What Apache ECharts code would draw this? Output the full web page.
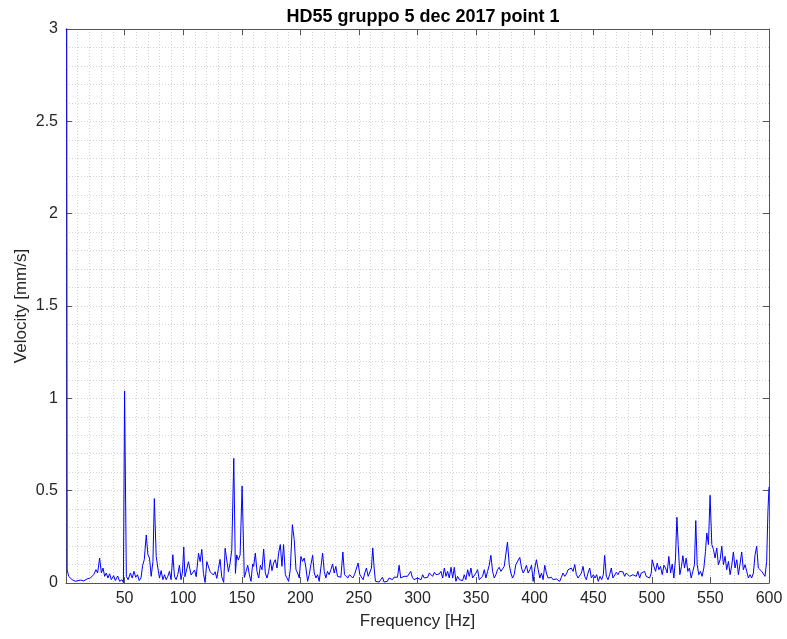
<!DOCTYPE html>
<html>
<head>
<meta charset="utf-8">
<script src="https://cdn.jsdelivr.net/npm/echarts@6/dist/echarts.min.js"></script>
<style>
    html, body { margin: 0; padding: 0; background: #fff; }
    #chart { width: 787px; height: 639px; }
</style>
</head>
<body>
<div id="chart"></div>
<script>
    // spectrum, [frequency Hz, velocity mm/s]
    var band0to150 = [[0, 8], [1, 0.07], [2.3, 0.036], [5.2, 0.018], [8, 0.009], [12.3, 0.016], [15.1, 0.011], [17.9, 0.022],
        [20.8, 0.027], [23.6, 0.045], [25.6, 0.072], [27, 0.054], [28.7, 0.135], [30.2, 0.054], [31.6, 0.081], [33, 0.036],
        [34.4, 0.054], [35.8, 0.027], [37.2, 0.05], [38.7, 0.018], [40.7, 0.04], [42.1, 0.013], [44.1, 0.038], [45.8, 0.009],
        [47.8, 0.018], [49, 0.002], [50, 1.04], [51.5, 0.036], [53, 0.018], [55, 0.054], [56.5, 0.027], [58, 0.063],
        [59.5, 0.031], [61, 0.045], [62.5, 0.013], [64, 0.027], [65.4, 0.096], [66.8, 0.126], [68.5, 0.26], [69.9, 0.153],
        [71.3, 0.135], [72.7, 0.036], [74.2, 0.117], [75.4, 0.457], [77, 0.144], [78.4, 0.081], [79.8, 0.027], [81.2, 0.067],
        [82.7, 0.018], [84.1, 0.045], [85.5, 0.018], [86.9, 0.036], [88.3, 0.063], [89.7, 0.018], [91.2, 0.153], [92.6, 0.036],
        [94, 0.018], [95.4, 0.045], [96.8, 0.096], [98.2, 0.018], [99.4, 0.06], [100.5, 0.195], [101.5, 0.034], [104.5, 0.115],
        [106.8, 0.043], [109.7, 0.07], [111.1, 0.034], [113.1, 0.161], [114.5, 0.116], [115.9, 0.182], [117.3, 0.052], [118.7, 0.003],
        [120.2, 0.116], [121.6, 0.116], [123, 0.061], [124.4, 0.07], [125.8, 0.043], [127.3, 0.061], [128.7, 0.025], [130.1, 0.079],
        [131.5, 0.128], [132.9, 0.034], [134.6, 0.003], [135.8, 0.188], [137.2, 0.179], [138.6, 0.061], [140, 0.106], [141.5, 0.179],
        [143.2, 0.675], [144.6, 0.052], [145.7, 0.152], [147.1, 0.124], [148.6, 0.152], [150.3, 0.525]];

    var band150to300 = [[152.2, 0.03], [153.7, 0.063], [155.1, 0.096], [156.5, 0.045], [157.9, 0.009], [159.3, 0.103], [160.2, 0.09],
        [161.6, 0.162], [163, 0.063], [164.5, 0.027], [165.9, 0.096], [167.3, 0.072], [168.7, 0.184], [170.1, 0.054], [171.6, 0.027],
        [173, 0.063], [174.4, 0.126], [175.8, 0.067], [177.2, 0.108], [178.6, 0.126], [180.1, 0.081], [181.5, 0.162], [182.9, 0.208],
        [184.3, 0.09], [185.7, 0.208], [187.2, 0.045], [188.6, 0.036], [190, 0.009], [191.4, 0.072], [193.2, 0.316], [194.8, 0.235],
        [196.3, 0.072], [197.7, 0.054], [199.1, 0.027], [200.5, 0.144], [201.9, 0.117], [203.3, 0.135], [204.8, 0.081], [206.2, 0.009],
        [207.6, 0.045], [209, 0.099], [210.5, 0.15], [211.9, 0.054], [213.3, 0.027], [214.7, 0.045], [216.1, 0.009], [217.5, 0.081],
        [219, 0.162], [220.4, 0.063], [221.8, 0.027], [223.2, 0.063], [224.6, 0.045], [226.1, 0.072], [227.5, 0.103], [228.9, 0.054],
        [230.3, 0.09], [231.7, 0.036], [233.2, 0.027], [234.6, 0.031], [236.3, 0.168], [237.7, 0.045], [239.1, 0.036], [240.5, 0.027],
        [242, 0.045], [243.4, 0.04], [244.8, 0.027], [246.2, 0.045], [247.6, 0.054], [249.3, 0.108], [250.8, 0.045], [252.2, 0.036],
        [253.6, 0.018], [255, 0.054], [256.4, 0.081], [257.9, 0.036], [259.3, 0.027], [260.7, 0.081], [261.8, 0.19], [263, 0.081],
        [264.1, 0.009], [265.8, 0.013], [267.2, 0.005], [268.7, 0.018], [270.1, 0.031], [271.5, 0.005], [272.9, 0.013], [274.3, 0.009],
        [275.7, 0.027], [277.2, 0.032], [278.6, 0.018], [280, 0.032], [281.4, 0.022], [282.9, 0.031], [284.3, 0.096], [285.7, 0.027],
        [287.1, 0.018], [288.5, 0.036], [289.9, 0.027], [291.4, 0.036], [292.8, 0.04], [294.2, 0.063], [295.6, 0.031], [297, 0.018],
        [298.5, 0.009], [299.9, 0.027]];

    var band300to450 = [[301.6, 0.036], [303, 0.018], [304.4, 0.045], [305.8, 0.027], [307.3, 0.036], [308.7, 0.031], [310.1, 0.054],
        [311.5, 0.045], [312.9, 0.036], [314.4, 0.058], [315.8, 0.045], [317.2, 0.036], [318.6, 0.049], [320, 0.063], [321.5, 0.027],
        [322.9, 0.081], [324.3, 0.036], [325.7, 0.063], [327.1, 0.027], [328.6, 0.085], [330, 0.027], [331.4, 0.085], [332.8, 0.009],
        [334.2, 0.036], [335.7, 0.018], [337.1, 0.027], [338.5, 0.013], [339.9, 0.045], [341.3, 0.018], [342.8, 0.072], [344.2, 0.036],
        [345.6, 0.081], [347, 0.027], [348.4, 0.018], [349.9, 0.054], [351.3, 0.072], [352.7, 0.018], [354.1, 0.009], [355.5, 0.036],
        [357, 0.072], [358.4, 0.027], [359.8, 0.063], [361.2, 0.096], [362.6, 0.15], [364.1, 0.063], [365.5, 0.027], [366.9, 0.045],
        [368.3, 0.072], [369.7, 0.085], [371.2, 0.063], [372.6, 0.072], [374, 0.09], [375.4, 0.096], [376.8, 0.222], [378.3, 0.099],
        [379.7, 0.054], [381.1, 0.027], [382.5, 0.045], [383.9, 0.099], [385.3, 0.108], [387.3, 0.139], [388.8, 0.081], [390.2, 0.054],
        [391.6, 0.072], [393, 0.096], [394.4, 0.054], [395.9, 0.072], [397.3, 0.096], [398.7, 0.009], [400.1, 0.081], [401.5, 0.126],
        [403, 0.072], [404.4, 0.027], [405.8, 0.054], [407.2, 0.018], [408.6, 0.096], [410, 0.054], [411.5, 0.027], [412.9, 0.036],
        [414.3, 0.031], [415.7, 0.018], [417.1, 0.027], [418.6, 0.022], [420, 0.018], [421.4, 0.009], [422.8, 0.031], [424.2, 0.054],
        [425.7, 0.036], [427.1, 0.049], [428.5, 0.072], [429.9, 0.063], [431.3, 0.081], [432.8, 0.063], [434.2, 0.1], [435.6, 0.045],
        [437, 0.027], [438.4, 0.018], [439.9, 0.054], [441.3, 0.09], [442.7, 0.036], [444.1, 0.018], [445.5, 0.054], [447, 0.081],
        [448.4, 0.027]];

    var band450to600 = [[450.1, 0.045], [451.5, 0.027], [452.9, 0.045], [454.3, 0.009], [455.8, 0.036], [457.2, 0.018], [458.6, 0.045],
        [459.7, 0.15], [461.2, 0.036], [462.6, 0.018], [464, 0.045], [465.4, 0.081], [466.8, 0.027], [468.3, 0.036], [469.7, 0.058],
        [471.1, 0.045], [472.5, 0.063], [473.9, 0.072], [475.4, 0.06], [476.8, 0.036], [478.2, 0.054], [479.6, 0.063], [481, 0.036],
        [482.5, 0.027], [483.9, 0.045], [485.3, 0.054], [486.7, 0.036], [488.1, 0.063], [489.6, 0.027], [491, 0.054], [492.4, 0.045],
        [493.8, 0.063], [495.2, 0.036], [496.7, 0.027], [498.1, 0.027], [499.5, 0.054], [500.3, 0.126], [501.8, 0.09], [503.2, 0.063],
        [504.6, 0.108], [506, 0.072], [507.4, 0.09], [508.9, 0.045], [510.3, 0.096], [511.7, 0.081], [513.1, 0.054], [514.5, 0.144],
        [516, 0.054], [517.4, 0.103], [518.8, 0.027], [520.2, 0.135], [521.4, 0.356], [522.5, 0.208], [523.9, 0.045], [525.3, 0.09],
        [526.5, 0.148], [527.9, 0.081], [529.3, 0.135], [530.7, 0.063], [532.1, 0.081], [533.6, 0.027], [535, 0.063], [536.4, 0.099],
        [537.5, 0.338], [538.7, 0.099], [540.1, 0.045], [541.5, 0.063], [542.9, 0.036], [544.4, 0.081], [545.8, 0.171], [546.9, 0.271],
        [548.3, 0.208], [549.7, 0.475], [551.2, 0.208], [552.6, 0.181], [554, 0.135], [555.4, 0.19], [556.8, 0.099], [558.3, 0.126],
        [559.7, 0.199], [561.1, 0.099], [562.5, 0.144], [563.9, 0.072], [565.4, 0.117], [566.8, 0.045], [568.2, 0.096], [569.6, 0.168],
        [571, 0.081], [572.5, 0.126], [573.9, 0.045], [575.3, 0.103], [576.7, 0.168], [578.1, 0.072], [579.6, 0.099], [581, 0.063],
        [582.4, 0.027], [583.8, 0.045], [585.2, 0.027], [586.7, 0.054], [588.1, 0.153], [589.5, 0.199], [590.9, 0.081], [592.3, 0.072],
        [593.8, 0.063], [595.2, 0.054], [596.6, 0.036], [598, 0.117], [599.1, 0.39], [600, 0.52]];

    var spectrum = [].concat(band0to150, band150to300, band300to450, band450to600);

    var axisColor = '#555555';
    var textColor = '#262626';
    var fontFamily = 'Liberation Sans, Arial, Helvetica, sans-serif';
    var dotted = {show: true, lineStyle: {color: '#d4d4d4', type: [1, 2], width: 1}};

    var chart = echarts.init(document.getElementById('chart'));

    chart.setOption({
        animation: false,
        backgroundColor: '#ffffff',
        textStyle: {fontFamily: fontFamily},
        title: {
            text: 'HD55 gruppo 5 dec 2017 point 1',
            left: 418,
            top: 3,
            textAlign: 'center',
            textStyle: {fontSize: 18, fontWeight: 'bold', color: '#000000', fontFamily: fontFamily}
        },
        grid: {left: 66, right: 18, top: 29, bottom: 56, containLabel: false},
        xAxis: [{
            type: 'value',
            min: 0,
            max: 600,
            interval: 50,
            position: 'bottom',
            axisLine: {show: true, onZero: false, lineStyle: {color: axisColor}},
            axisTick: {show: true, inside: true, length: 6, lineStyle: {color: axisColor}},
            axisLabel: {
                color: textColor, fontSize: 16, margin: 8,
                formatter: function (v) { return v === 0 ? '' : v; }
            },
            splitLine: dotted,
            minorTick: {show: false, splitNumber: 5},
            minorSplitLine: dotted,
            name: 'Frequency [Hz]',
            nameLocation: 'middle',
            nameGap: 30,
            nameMoveOverlap: false,
            nameTextStyle: {fontSize: 17, color: textColor}
        }, {
            type: 'value',
            min: 0,
            max: 600,
            interval: 50,
            position: 'top',
            axisLine: {show: true, onZero: false, lineStyle: {color: axisColor}},
            axisTick: {show: true, inside: true, length: 6, lineStyle: {color: axisColor}},
            axisLabel: {show: false},
            splitLine: {show: false}
        }],
        yAxis: [{
            type: 'value',
            min: 0,
            max: 3,
            interval: 0.5,
            position: 'left',
            axisLine: {show: true, onZero: false, lineStyle: {color: axisColor}},
            axisTick: {show: true, inside: true, length: 6, lineStyle: {color: axisColor}},
            axisLabel: {color: textColor, fontSize: 16, margin: 8},
            splitLine: dotted,
            minorTick: {show: false, splitNumber: 5},
            minorSplitLine: dotted,
            name: 'Velocity [mm/s]',
            nameLocation: 'middle',
            nameGap: 36,
            nameMoveOverlap: false,
            nameTextStyle: {fontSize: 17, color: textColor}
        }, {
            type: 'value',
            min: 0,
            max: 3,
            interval: 0.5,
            position: 'right',
            axisLine: {show: true, onZero: false, lineStyle: {color: axisColor}},
            axisTick: {show: true, inside: true, length: 6, lineStyle: {color: axisColor}},
            axisLabel: {show: false},
            splitLine: {show: false}
        }],
        series: [{
            name: 'velocity',
            type: 'line',
            xAxisIndex: 0,
            yAxisIndex: 0,
            data: spectrum,
            smooth: false,
            showSymbol: false,
            clip: true,
            lineStyle: {color: '#0000ff', width: 1},
            z: 3
        }]
    });
</script>
</body>
</html>
